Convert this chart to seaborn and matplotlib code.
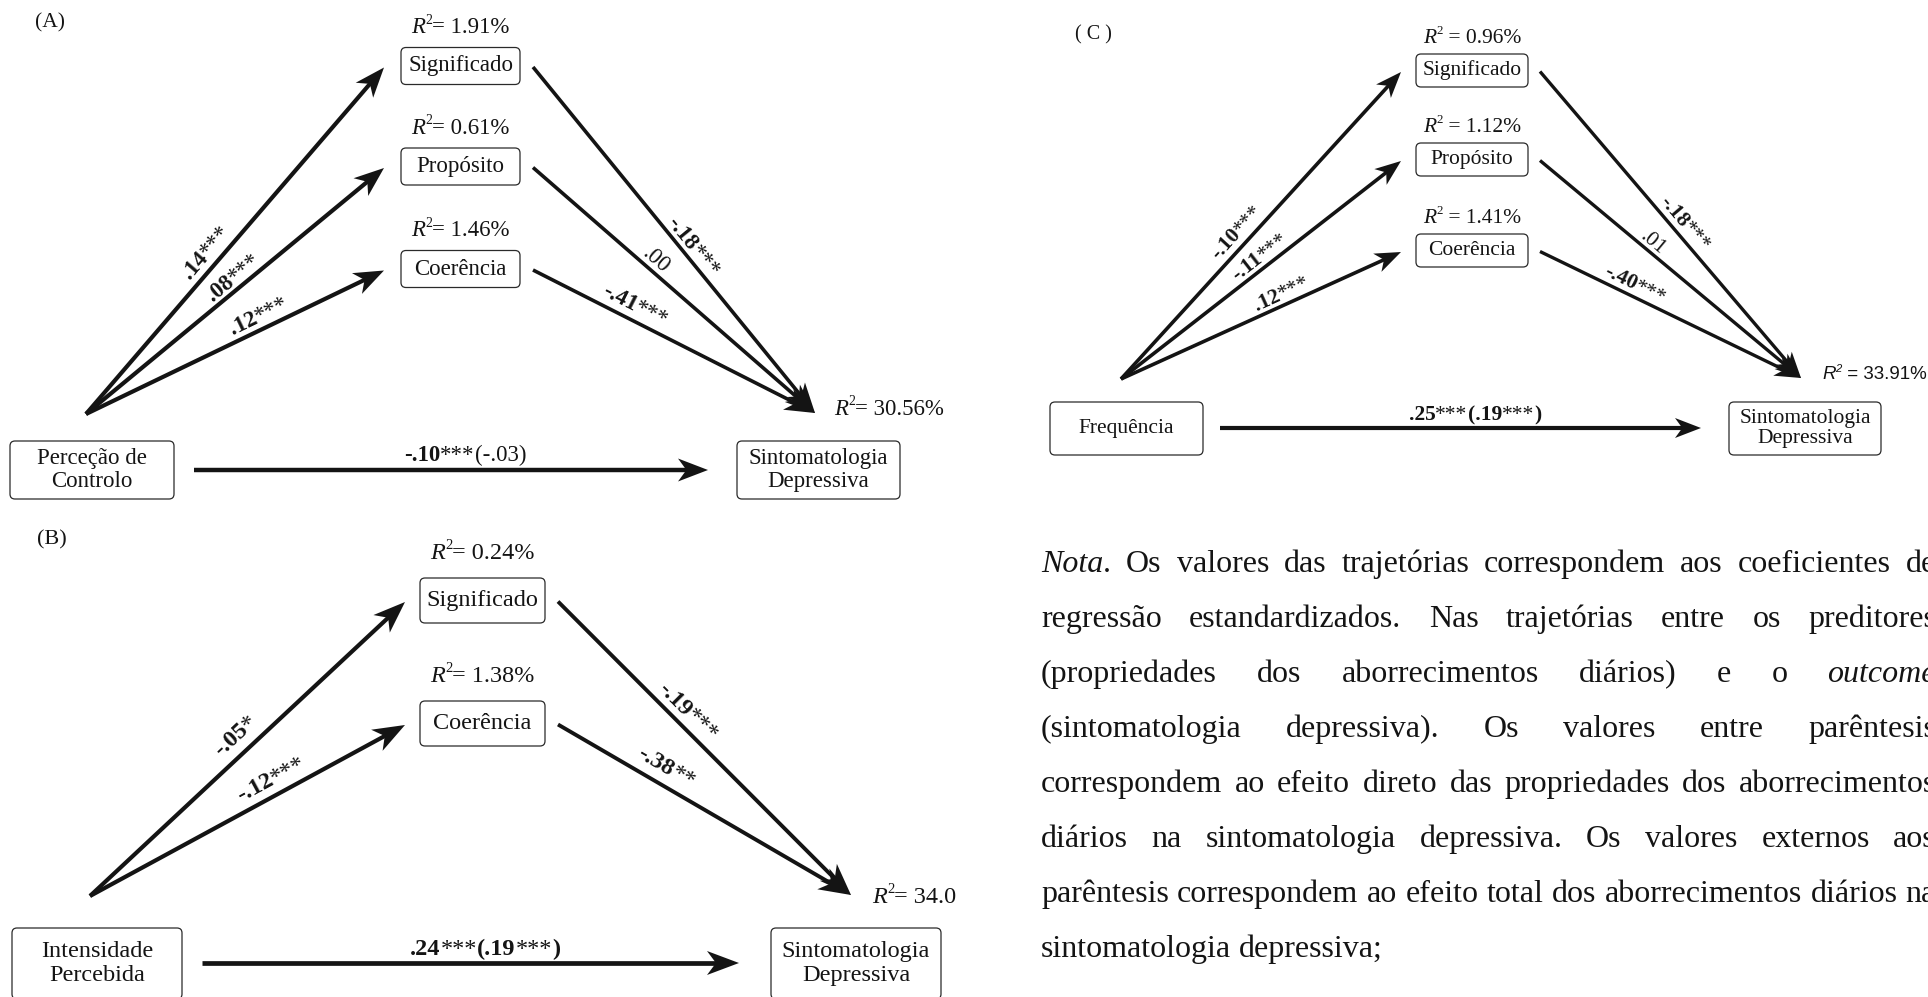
import re
import numpy as np
import matplotlib
matplotlib.use("Agg")
import matplotlib.pyplot as plt
import seaborn as sns
from matplotlib.patches import FancyBboxPatch
from matplotlib.transforms import Bbox

sns.set_theme(style="white")
plt.rcParams["font.family"] = ["Liberation Serif", "DejaVu Serif"]

INK = "#141414"

# ---------------- Panel A: Perceção de Controlo ----------------
a_title = "(A)"
a_predictor = "Perceção de\nControlo"
a_mediators = ["Significado", "Propósito", "Coerência"]
a_mediator_r2 = ["1.91%", "0.61%", "1.46%"]
a_path_in = [".14***", ".08***", ".12***"]
a_path_out = ["-.18***", ".00", "-.41***"]
a_total = "-.10***"
a_direct = "(-.03)"
a_outcome_r2 = "30.56%"

# ---------------- Panel B: Intensidade Percebida ----------------
b_title = "(B)"
b_predictor = "Intensidade\nPercebida"
b_mediators = ["Significado", "Coerência"]
b_mediator_r2 = ["0.24%", "1.38%"]
b_path_in = ["-.05*", "-.12***"]
b_path_out = ["-.19***", "-.38**"]
b_total = ".24***"
b_direct = "(.19***)"
b_outcome_r2 = "34.0"

# ---------------- Panel C: Frequência ----------------
c_title = "( C )"
c_predictor = "Frequência"
c_mediators = ["Significado", "Propósito", "Coerência"]
c_mediator_r2 = ["0.96%", "1.12%", "1.41%"]
c_path_in = ["-.10***", "-.11***", ".12***"]
c_path_out = ["-.18***", ".01", "-.40***"]
c_total = ".25***"
c_direct = "(.19***)"
c_outcome_r2 = "33.91%"

outcome_name = "Sintomatologia\nDepressiva"

# ---------------- Note ----------------
nota_lines = [
    "_Nota_. Os valores das trajetórias correspondem aos coeficientes de",
    "regressão estandardizados. Nas trajetórias entre os preditores",
    "(propriedades dos aborrecimentos diários) e o _outcome_",
    "(sintomatologia depressiva). Os valores entre parêntesis",
    "correspondem ao efeito direto das propriedades dos aborrecimentos",
    "diários na sintomatologia depressiva. Os valores externos aos",
    "parêntesis correspondem ao efeito total dos aborrecimentos diários na",
    "sintomatologia depressiva;",
]

# ---------------- layout (pixel space of the canvas) ----------------
LAYOUT_A = dict(
    title_xy=(50, 23), title_fs=15.5,
    med_cx=460.5, med_w=119, med_h=37, med_cy=[66, 166.5, 269], r2_gap=22, r2_sep="= ",
    pred_box=(10, 441, 174, 499), out_box=(737, 441, 900, 499),
    origin=(86, 414), sink=(815, 413), tip_gap=17, start_gap=13,
    direct=(194, 708, 470), direct_label=(465, 453), out_r2=(834, 407),
    in_label=[(0.44, 16), (0.52, 13), (0.60, 15)],
    out_label=[(0.54, 12), (0.41, 13), (0.34, 16)],
    fs=16.5, fs_path=16.5, lw_in=3.0, lw_out=2.6, lw_direct=3.2, ls=1.1,
    head=(30, 11.5), clip=None, r2_family=None, r2_fs=16.5,
)
LAYOUT_B = dict(
    title_xy=(52, 540), title_fs=16,
    med_cx=482.5, med_w=125, med_h=45, med_cy=[600.5, 723.5], r2_gap=27, r2_sep="= ",
    pred_box=(12, 928, 182, 999), out_box=(771, 928, 941, 999),
    origin=(90, 896), sink=(851, 895), tip_gap=15, start_gap=13,
    direct=(202, 739, 963), direct_label=(485, 947), out_r2=(872, 895),
    in_label=[(0.50, 20), (0.60, 18)],
    out_label=[(0.41, 16), (0.34, 19)],
    fs=17.5, fs_path=17.5, lw_in=3.0, lw_out=2.8, lw_direct=3.4, ls=1.2,
    head=(32, 12), clip=(0, 505, 957, 997), r2_family=None, r2_fs=17.5,
)
LAYOUT_C = dict(
    title_xy=(1093, 35), title_fs=14.5,
    med_cx=1472, med_w=112, med_h=33, med_cy=[70.5, 159.5, 250.5], r2_gap=18, r2_sep=" = ",
    pred_box=(1050, 402, 1203, 455), out_box=(1729, 402, 1881, 455),
    origin=(1121, 379), sink=(1801, 378), tip_gap=15, start_gap=12,
    direct=(1220, 1701, 428), direct_label=(1475, 413), out_r2=(1822, 373),
    in_label=[(0.45, 15), (0.52, 13), (0.59, 13)],
    out_label=[(0.52, 13), (0.41, 11), (0.345, 13)],
    fs=15.5, fs_path=15.5, lw_in=2.6, lw_out=2.4, lw_direct=3.0, ls=1.02,
    head=(26, 10), clip=None, r2_family=["Liberation Sans", "DejaVu Sans"], r2_fs=13.5,
)

W, H = 1928, 997
fig = plt.figure(figsize=(W / 100, H / 100), dpi=100)
ax = fig.add_axes([0, 0, 1, 1])
ax.set_xlim(0, W)
ax.set_ylim(H, 0)
ax.axis("off")
sns.despine(ax=ax, left=True, bottom=True)
renderer = fig.canvas.get_renderer()
PX = 100 / 72  # pixels per point


def text_width(t):
    return t.get_window_extent(renderer).width


def rich(x, y, segs, ha="center", rot=0.0, clip=None, family=None):
    """Lay out styled runs on one baseline starting/centred at (x, y)."""
    arts, widths = [], []
    for s, kw, rise in segs:
        k = dict(kw)
        if family:
            k["family"] = family
        t = ax.text(0, 0, s, ha="left", va="baseline", color=INK, zorder=5, **k)
        arts.append(t)
        widths.append(text_width(t))
    total = sum(widths)
    a = np.radians(rot)
    u = np.array([np.cos(a), -np.sin(a)])
    up = np.array([-np.sin(a), -np.cos(a)])
    start = np.array([x, y], float) - (total / 2 if ha == "center" else 0.0) * u
    off = 0.0
    for t, w, (s, kw, rise) in zip(arts, widths, segs):
        p = start + off * u + rise * up
        t.set_position((p[0], p[1]))
        t.set_rotation(rot)
        t.set_rotation_mode("anchor")
        if clip is not None:
            t.set_clip_on(True)
            t.set_clip_box(clip)
        off += w
    return arts


def coef_segments(label, fs, significant=None):
    if significant is None:
        significant = "*" in label
    segs = []
    for run in re.findall(r"\*+|[^*]+", label):
        weight = "bold" if (significant and "*" not in run) else "normal"
        segs.append((run, dict(fontsize=fs, fontweight=weight), 0.0))
    return segs


def r2_segments(value, sep, fs, italic_sup=False):
    return [
        ("R", dict(fontsize=fs, style="italic"), 0.0),
        ("2", dict(fontsize=fs * 0.6, style="italic" if italic_sup else "normal"), 0.40 * fs * PX),
        (sep + value, dict(fontsize=fs), 0.0),
    ]


def node(x0, y0, x1, y1, label, fs, ls):
    ax.add_patch(FancyBboxPatch((x0, y0), x1 - x0, y1 - y0,
                                boxstyle="round,pad=0,rounding_size=5",
                                fc="white", ec="#2a2a2a", lw=0.9, zorder=2))
    ax.text((x0 + x1) / 2, (y0 + y1) / 2, label, ha="center", va="center",
            fontsize=fs, linespacing=ls, color=INK, zorder=3, multialignment="center")


def arrow(p0, p1, lw, head):
    hl, hw = head
    p0 = np.asarray(p0, float)
    p1 = np.asarray(p1, float)
    u = (p1 - p0) / np.hypot(*(p1 - p0))
    n = np.array([-u[1], u[0]])
    notch = p1 - 0.72 * hl * u
    ax.plot([p0[0], notch[0] + 2 * u[0]], [p0[1], notch[1] + 2 * u[1]],
            color=INK, lw=lw, solid_capstyle="butt", zorder=4)
    wing_a = p1 - hl * u + hw * n
    wing_b = p1 - hl * u - hw * n
    ax.fill([p1[0], wing_a[0], notch[0], wing_b[0]],
            [p1[1], wing_a[1], notch[1], wing_b[1]], color=INK, lw=0, zorder=4)


def edge_label(p0, p1, t, off, label, fs):
    p0 = np.asarray(p0, float)
    p1 = np.asarray(p1, float)
    d = p1 - p0
    u = d / np.hypot(*d)
    n = np.array([u[1], -u[0]])
    centre = p0 + t * d + off * n
    ang = np.degrees(np.arctan2(-d[1], d[0]))
    a = np.radians(ang)
    down = np.array([np.sin(a), np.cos(a)])
    base = centre + 0.32 * fs * PX * down
    rich(base[0], base[1], coef_segments(label, fs), ha="center", rot=ang)


def panel(L, title, predictor, mediators, r2s, path_in, path_out, total, direct, out_r2):
    fs = L["fs"]
    ax.text(*L["title_xy"], title, ha="center", va="center", fontsize=L["title_fs"], color=INK)
    cx, mw, mh = L["med_cx"], L["med_w"], L["med_h"]
    for name, r2, cy, lin, lout, tin, tout in zip(mediators, r2s, L["med_cy"], path_in, path_out,
                                                 L["in_label"], L["out_label"]):
        node(cx - mw / 2, cy - mh / 2, cx + mw / 2, cy + mh / 2, name, fs, L["ls"])
        ry = cy - mh / 2 - L["r2_gap"] + 0.33 * fs * PX
        rich(cx, ry, r2_segments(r2, L["r2_sep"], fs), ha="center")
        tip = (cx - mw / 2 - L["tip_gap"], cy + 1.5)
        start = (cx + mw / 2 + L["start_gap"], cy + 1)
        arrow(L["origin"], tip, L["lw_in"], L["head"])
        arrow(start, L["sink"], L["lw_out"], L["head"])
        edge_label(L["origin"], tip, tin[0], tin[1], lin, L["fs_path"])
        edge_label(start, L["sink"], tout[0], tout[1], lout, L["fs_path"])

    node(*L["pred_box"], predictor, fs, L["ls"])
    node(*L["out_box"], outcome_name, fs, L["ls"])

    x0, x1, y = L["direct"]
    arrow((x0, y), (x1, y), L["lw_direct"], L["head"])

    # total effect followed by the direct effect in parentheses
    lx, ly = L["direct_label"]
    segs = coef_segments(total, fs) + coef_segments(direct, fs)
    rich(lx, ly + 0.33 * fs * PX, segs, ha="center")

    clip = None
    if L["clip"] is not None:
        cx0, cy0, cx1, cy1 = L["clip"]
        clip = Bbox.from_extents(cx0, H - cy1, cx1, H - cy0)
    rfs = L["r2_fs"]
    ox, oy = L["out_r2"]
    rich(ox, oy + 0.33 * rfs * PX,
         r2_segments(out_r2, L["r2_sep"], rfs, italic_sup=L["r2_family"] is not None),
         ha="left", clip=clip, family=L["r2_family"])


panel(LAYOUT_A, a_title, a_predictor, a_mediators, a_mediator_r2, a_path_in, a_path_out,
      a_total, a_direct, a_outcome_r2)
panel(LAYOUT_B, b_title, b_predictor, b_mediators, b_mediator_r2, b_path_in, b_path_out,
      b_total, b_direct, b_outcome_r2)
panel(LAYOUT_C, c_title, c_predictor, c_mediators, c_mediator_r2, c_path_in, c_path_out,
      c_total, c_direct, c_outcome_r2)

# ---------------- justified note ----------------
NOTE_X0, NOTE_X1 = 1041, 1936
NOTE_Y0, NOTE_DY = 572, 55
NOTE_FS = 23


def word_parts(word):
    parts = word.split("_")
    return [(p, "italic" if i % 2 == 1 else "normal") for i, p in enumerate(parts) if p]


space_probe = ax.text(0, -100, "a a", fontsize=NOTE_FS)
a_probe = ax.text(0, -100, "aa", fontsize=NOTE_FS)
SPACE_W = text_width(space_probe) - text_width(a_probe)
space_probe.remove()
a_probe.remove()

for i, line in enumerate(nota_lines):
    y = NOTE_Y0 + i * NOTE_DY
    words = []
    for w in line.split(" "):
        segs = []
        for s, style in word_parts(w):
            t = ax.text(0, y, s, ha="left", va="baseline", fontsize=NOTE_FS,
                        style=style, color=INK)
            segs.append((t, text_width(t)))
        words.append(segs)
    widths = [sum(w for _, w in segs) for segs in words]
    last = i == len(nota_lines) - 1
    gap = SPACE_W if last else (NOTE_X1 - NOTE_X0 - sum(widths)) / (len(words) - 1)
    x = NOTE_X0
    for segs, ww in zip(words, widths):
        xx = x
        for t, w in segs:
            t.set_x(xx)
            xx += w
        x += ww + gap

fig.savefig("out.png", dpi=100, facecolor="white")
